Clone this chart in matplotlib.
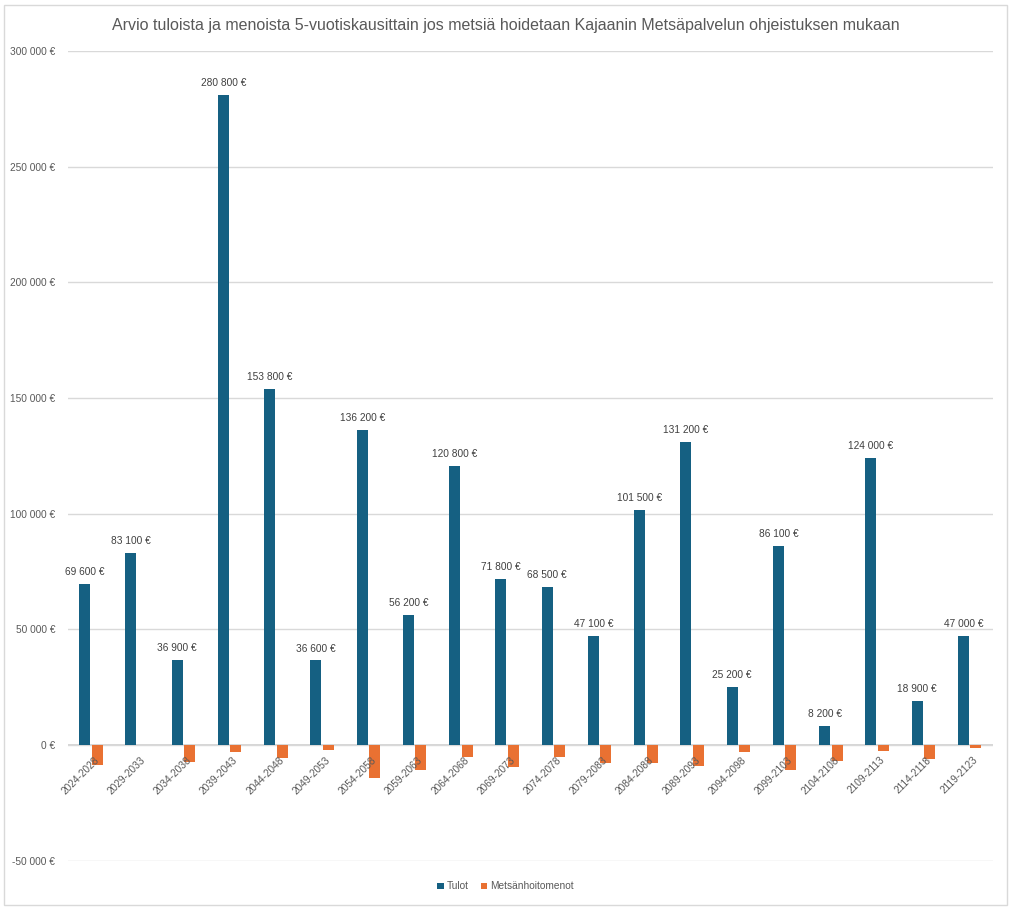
import numpy as np
import matplotlib.pyplot as plt
from matplotlib.patches import Rectangle
from matplotlib.ticker import FuncFormatter

plt.rcParams['font.family'] = ['Liberation Sans', 'DejaVu Sans']

# Jaksot ja arvot (luettu kuvasta)
jaksot = ["2024-2028", "2029-2033", "2034-2038", "2039-2043", "2044-2048",
          "2049-2053", "2054-2058", "2059-2063", "2064-2068", "2069-2073",
          "2074-2078", "2079-2083", "2084-2088", "2089-2093", "2094-2098",
          "2099-2103", "2104-2108", "2109-2113", "2114-2118", "2119-2123"]
tulot = [69600, 83100, 36900, 280800, 153800, 36600, 136200, 56200, 120800, 71800,
         68500, 47100, 101500, 131200, 25200, 86100, 8200, 124000, 18900, 47000]
menot = [-8600, 0, -7300, -2900, -5500, -2000, -14100, -10600, -5100, -9300,
         -5000, -7700, -7700, -8900, -2900, -10600, -6800, -2400, -6000, -1200]

SININEN = "#156082"
ORANSSI = "#E97132"
HARMAA = "#595959"


def euro(v, pos=None):
    s = f"{abs(int(v)):,}".replace(",", " ")
    return ("-" if v < 0 else "") + s + " €"


fig = plt.figure(figsize=(10.11, 9.10), dpi=100)
fig.patches.append(Rectangle((0.004, 0.005), 0.992, 0.99, transform=fig.transFigure,
                             fill=False, edgecolor="#d9d9d9", linewidth=1))
ax = fig.add_axes([0.067, 0.054, 0.915, 0.890])

x = np.arange(len(jaksot))
w = 0.24
palkit = ax.bar(x - 0.135, tulot, w, color=SININEN, label="Tulot", zorder=3)
ax.bar(x + 0.135, menot, w, color=ORANSSI, label="Metsänhoitomenot", zorder=3)

for rect, v in zip(palkit, tulot):
    ax.annotate(euro(v), (rect.get_x() + rect.get_width() / 2, v),
                xytext=(0, 5), textcoords="offset points", ha="center", va="bottom",
                fontsize=7.3, color="#404040")

ax.set_xlim(-0.5, len(jaksot) - 0.5)
ax.set_ylim(-50000, 300000)
ax.set_yticks(np.arange(-50000, 300001, 50000))
ax.yaxis.set_major_formatter(FuncFormatter(euro))
ax.grid(axis="y", color="#d9d9d9", linewidth=1, zorder=0)
ax.axhline(0, color="#d0d0d0", linewidth=1.2, zorder=1)
for s in ax.spines.values():
    s.set_visible(False)
ax.tick_params(axis="y", length=0, labelsize=7.3, labelcolor=HARMAA, pad=9)

# x-akselin nimikkeet nollatason alle vinoon
ax.set_xticks([])
for i, nimi in enumerate(jaksot):
    ax.annotate(nimi, (i, 0), xytext=(2, -7), textcoords="offset points",
                rotation=45, ha="right", va="top", rotation_mode="anchor",
                fontsize=7.3, color=HARMAA)

fig.text(0.5, 0.972, "Arvio tuloista ja menoista 5-vuotiskausittain jos metsiä hoidetaan "
         "Kajaanin Metsäpalvelun ohjeistuksen mukaan",
         ha="center", va="center", fontsize=11.5, color=HARMAA)

fig.legend(loc="center", bbox_to_anchor=(0.5, 0.026), ncol=2, frameon=False,
           fontsize=7.3, handlelength=0.6, handleheight=0.6, handletextpad=0.3,
           columnspacing=1.2, labelcolor=HARMAA)

fig.savefig("out.png", dpi=100, facecolor="white")
